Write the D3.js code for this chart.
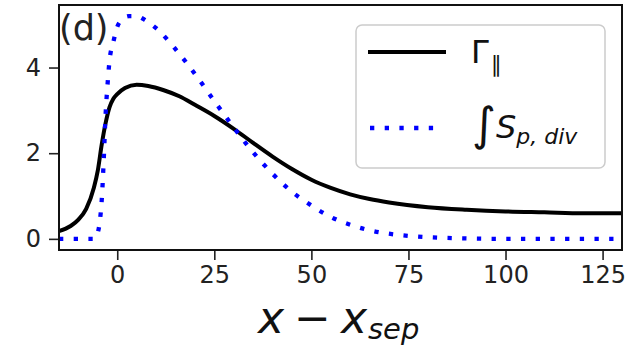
<!DOCTYPE html>
<html><head><meta charset="utf-8">
<script src="https://cdn.jsdelivr.net/npm/d3@7"></script>
<style>
body{margin:0;background:#fff;}
svg{display:block;font-family:"DejaVu Sans",sans-serif;}
</style></head>
<body><svg id="c" width="635" height="354"></svg>
<script>
// Γ_parallel (solid black)
const gammaX = [-15,-12,-10,-8,-6,-5,-4,-3,-2,-1,0,2,5,8,12,16,20,25,30,35,40,45,50,55,60,65,70,80,90,100,110,120,130];
const gammaY = [0.18,0.3,0.45,0.7,1.2,1.6,2.2,2.7,3.07,3.27,3.38,3.52,3.6,3.57,3.47,3.33,3.13,2.87,2.57,2.24,1.92,1.63,1.38,1.19,1.04,0.93,0.85,0.74,0.68,0.64,0.62,0.6,0.6];
// ∫S_p,div (blue dotted)
const spX = [-15,-10,-6,-5,-4.5,-4,-3.5,-3,-2.5,-2,-1,0,1,3,5,7,10,15,20,25,30,35,40,45,50,55,60,65,70,75,80,90,100,130];
const spY = [0,0,0,0.15,0.4,0.9,1.8,2.9,3.6,4.15,4.6,4.95,5.1,5.2,5.2,5.12,4.92,4.43,3.85,3.22,2.6,2.02,1.52,1.1,0.78,0.51,0.33,0.2,0.12,0.07,0.04,0.01,0,0];
const xTicks = [0,25,50,75,100,125];
const yTicks = [0,2,4];

const svg = d3.select("#c");
const L=59, R=622, T=5, B=250;
const x = d3.scaleLinear().domain([-15,130]).range([L,R]);
const y = d3.scaleLinear().domain([-0.26,5.46]).range([B,T]);

svg.append("clipPath").attr("id","pc").append("rect")
  .attr("x",L).attr("y",T).attr("width",R-L).attr("height",B-T);

const line = d3.line().x(d=>x(d[0])).y(d=>y(d[1])).curve(d3.curveMonotoneX);
const g = svg.append("g").attr("clip-path","url(#pc)");
g.append("path").datum(gammaX.map((v,i)=>[v,gammaY[i]]))
  .attr("d",line).attr("fill","none").attr("stroke","#000").attr("stroke-width",4);
g.append("path").datum(spX.map((v,i)=>[v,spY[i]]))
  .attr("d",line).attr("fill","none").attr("stroke","#0000ff").attr("stroke-width",4.3)
  .attr("stroke-dasharray","4.3,10.4");

// axes
const ax = svg.append("g").attr("transform",`translate(0,${B})`)
  .call(d3.axisBottom(x).tickValues(xTicks).tickSize(10).tickPadding(6).tickFormat(d3.format("d")));
const ay = svg.append("g").attr("transform",`translate(${L},0)`)
  .call(d3.axisLeft(y).tickValues(yTicks).tickSize(10).tickPadding(8).tickFormat(d3.format("d")));
[ax,ay].forEach(a=>{
  a.select(".domain").remove();
  a.selectAll(".tick line").attr("stroke","#222").attr("stroke-width",1.6);
  a.selectAll(".tick text").attr("fill","#222").style("font-size","24px").style("font-family","DejaVu Sans");
});
svg.append("rect").attr("x",L).attr("y",T).attr("width",R-L).attr("height",B-T)
  .attr("fill","none").attr("stroke","#111").attr("stroke-width",2);

// panel label
svg.append("text").attr("x",59).attr("y",40).attr("fill","#222")
  .style("font-size","35px").text("(d)");

// legend
const lg = svg.append("g");
lg.append("rect").attr("x",356).attr("y",25).attr("width",249).attr("height",143)
  .attr("rx",6).attr("fill","#fff").attr("fill-opacity",0.8).attr("stroke","#cccccc").attr("stroke-width",1.5);
lg.append("line").attr("x1",368).attr("x2",446).attr("y1",52).attr("y2",52)
  .attr("stroke","#000").attr("stroke-width",4);
lg.append("line").attr("x1",370).attr("x2",440).attr("y1",128).attr("y2",128)
  .attr("stroke","#0000ff").attr("stroke-width",4.3).attr("stroke-dasharray","4.3,10.4");
const t1 = lg.append("text").attr("x",471).attr("y",63).attr("fill","#111").style("font-size","32px");
t1.append("tspan").text("Γ");
t1.append("tspan").attr("dy",9).attr("dx",2).style("font-size","22px").text("∥");
lg.append("text").attr("x",472).attr("y",140).attr("fill","#111").style("font-size","46px").text("∫");
const t2 = lg.append("text").attr("x",496).attr("y",138).attr("fill","#111").style("font-size","32px");
t2.append("tspan").style("font-style","italic").text("S");
t2.append("tspan").attr("dy",6).style("font-size","22px").style("font-style","italic").text("p, div");

// x axis label
const xl = svg.append("text").attr("x",258).attr("y",333).attr("fill","#111")
  .style("font-size","44px");
xl.append("tspan").style("font-style","italic").text("x");
xl.append("tspan").attr("dx",10).text("−");
xl.append("tspan").attr("dx",10).style("font-style","italic").text("x");
xl.append("tspan").attr("dy",6).attr("dx",1).style("font-size","29px").style("font-style","italic").text("sep");
</script></body></html>
